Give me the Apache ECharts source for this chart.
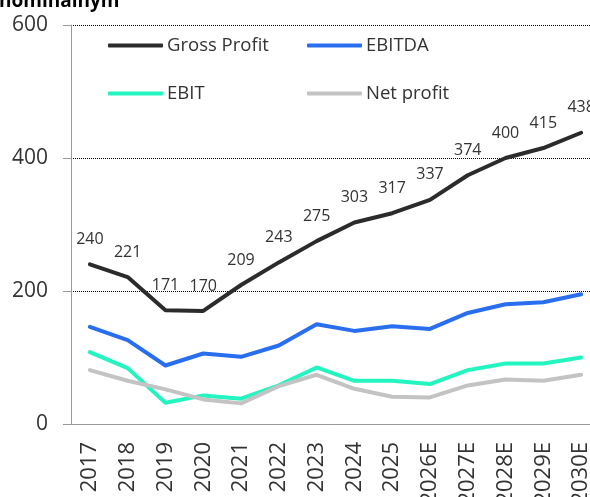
<!DOCTYPE html>
<html lang="en">
<head>
    <meta charset="UTF-8">
    <title>profit</title>
    <style>
        html, body {margin: 0; padding: 0; background: #fff;}
    </style>
</head>
<body>
<div id="chart" style="width: 590px;height: 497px"></div>
<script src="https://cdn.jsdelivr.net/npm/echarts@6/dist/echarts.min.js"></script>
<script>
    const years = ['2017', '2018', '2019', '2020', '2021', '2022', '2023', '2024', '2025',
        '2026E', '2027E', '2028E', '2029E', '2030E']
    const grossProfit = [240, 221, 171, 170, 209, 243, 275, 303, 317, 337, 374, 400, 415, 438]
    const ebitda = [146, 126, 88, 106, 101, 118, 150, 140, 147, 143, 167, 180, 183, 195]
    const ebit = [108, 84, 32, 43, 38, 58, 85, 65, 65, 60, 81, 91, 91, 100]
    const netProfit = [81, 65, 52, 37, 31, 57, 74, 53, 41, 40, 58, 67, 65, 74]
    const yTicks = {min: 0, max: 600, interval: 200}

    const font = '"Open Sans", "Noto Sans", sans-serif'
    const txt = '#333'

    const chart = echarts.init(document.getElementById('chart'))

    const line = (name, data, color, extra) => Object.assign({
        name: name,
        type: 'line',
        data: data,
        symbol: 'circle',
        symbolSize: 0,
        showSymbol: true,
        lineStyle: {width: 4, color: color, cap: 'round', join: 'round'},
        itemStyle: {color: color},
        emphasis: {disabled: true}
    }, extra || {})

    const legendAt = (name, left, top) => ({
        data: [name],
        left: left,
        top: top,
        itemWidth: 55,
        itemHeight: 4,
        itemGap: 0,
        padding: 0,
        icon: 'roundRect',
        textStyle: {fontFamily: font, fontSize: 18.5, color: txt, padding: [0, 0, 0, -1]}
    })

    chart.setOption({
        animation: false,
        title: {
            text: 'nominálnym',
            left: -1,
            top: -8,
            padding: 0,
            textStyle: {fontFamily: font, fontSize: 19, fontWeight: 'bold', color: '#000'}
        },
        legend: [
            legendAt('Gross Profit', 108, 36),
            legendAt('EBITDA', 307, 36),
            legendAt('EBIT', 108, 84),
            legendAt('Net profit', 307, 84)
        ],
        grid: {left: 71, top: 25, width: 529, bottom: 73, containLabel: false, outerBoundsMode: 'none'},
        xAxis: {
            type: 'category',
            data: years,
            boundaryGap: true,
            axisLine: {lineStyle: {color: '#999', width: 1}},
            axisTick: {length: 8, lineStyle: {color: '#999'}},
            axisLabel: {rotate: 90, margin: 18, fontFamily: font, fontSize: 22, color: txt, interval: 0}
        },
        yAxis: {
            type: 'value',
            min: yTicks.min,
            max: yTicks.max,
            interval: yTicks.interval,
            axisLine: {show: true, lineStyle: {color: '#999', width: 1}},
            axisTick: {show: true, length: 8, lineStyle: {color: '#999'}},
            axisLabel: {margin: 23, fontFamily: font, fontSize: 21, color: txt},
            splitLine: {lineStyle: {color: '#000', type: [1, 1], width: 1}}
        },
        series: [
            line('Gross Profit', grossProfit, '#2b2b2b', {
                z: 5,
                label: {
                    show: true,
                    position: 'top',
                    distance: 17,
                    fontFamily: font,
                    fontSize: 16,
                    color: txt
                }
            }),
            line('EBITDA', ebitda, '#2a6ef0'),
            line('EBIT', ebit, '#22f5c0'),
            line('Net profit', netProfit, '#c3c3c3')
        ]
    })
</script>
</body>
</html>
